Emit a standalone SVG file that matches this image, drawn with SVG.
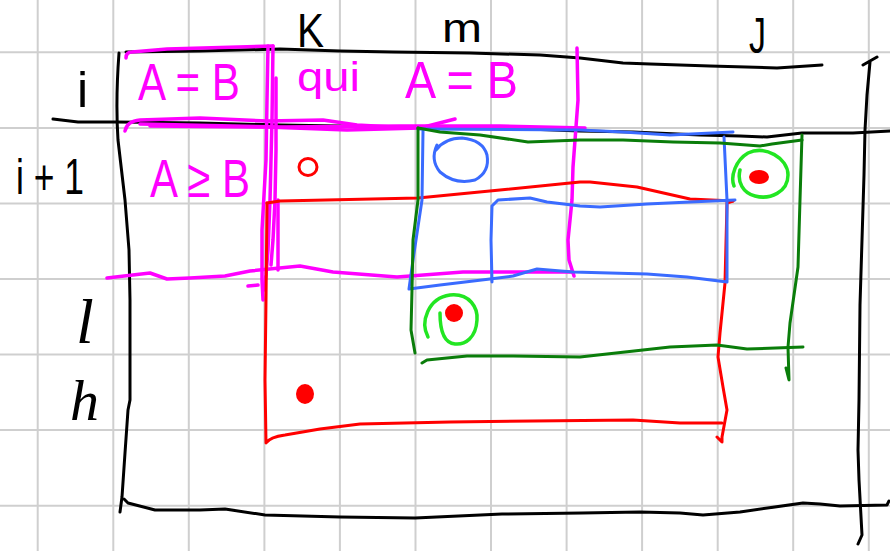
<svg xmlns="http://www.w3.org/2000/svg" width="890" height="551" viewBox="0 0 890 551">
<style>
.grid{stroke:#cfcfcf;stroke-width:2;fill:none}
.k{stroke:#000;stroke-width:3;fill:none;stroke-linecap:round;stroke-linejoin:round}
.mg{stroke:#ff00ff;stroke-width:3.5;fill:none;stroke-linecap:round;stroke-linejoin:round}
.rd{stroke:#ff0000;stroke-width:3;fill:none;stroke-linecap:round;stroke-linejoin:round}
.bl{stroke:#3a6bff;stroke-width:3;fill:none;stroke-linecap:round;stroke-linejoin:round}
.dg{stroke:#0a7d0a;stroke-width:3;fill:none;stroke-linecap:round;stroke-linejoin:round}
.lg{stroke:#22e622;stroke-width:3.5;fill:none;stroke-linecap:round;stroke-linejoin:round}
.dot{fill:#ff0000}
.tk{font-family:"Liberation Sans","DejaVu Sans",sans-serif;fill:#000}
.tc{font-family:"Liberation Serif","DejaVu Serif",serif;font-style:italic;fill:#000}
.tm{font-family:"Liberation Sans","DejaVu Sans",sans-serif;fill:#ff00ff}
</style>
<rect width="890" height="551" fill="#fff"/>
<g id="grid" class="grid">
<path d="M37.7,0V551M113.3,0V551M188.8,0V551M264.4,0V551M339.9,0V551M415.5,0V551M491,0V551M566.6,0V551M642.1,0V551M717.7,0V551M793.2,0V551M868.8,0V551"/>
<path d="M0,52.3H890M0,127.9H890M0,203.4H890M0,279H890M0,354.5H890M0,430.1H890M0,505.7H890"/>
</g>
<g id="frame" class="k">
<path d="M126,52 L200,51 L280,49 L340,51 L393,52 L470,53 L540,55 L580,58 L623,63 L650,64 L710,66 L777,68 L822,65"/>
<path d="M863,65 L877,57 M870,62 L867,95 L865,130 L864,175 L862,240 L860,305 L859,400 L858,450 L859,480 L862,535 L858,544"/>
<path d="M119,53 C117,80 116,110 118,140 L125,200 L129,250 L130,300 L130,400 L128,410 L125,453 L122,497 L120,512"/>
<path d="M124,499 L128,503 L155,510 L200,510 L225,509 L265,515 L340,517 L415,518 L502,514 L582,513 L640,512 L680,513 L703,515 L740,512 L803,503 L820,504 L840,506 L887,505 L889,501"/>
<path d="M53,119 L78,122 L117,122 L200,123 L280,125 L400,127 L500,128 L580,131 L633,132 L700,135 L740,136 L767,137 L802,133 L853,133 L890,131"/>
</g>
<g id="labels">
<text class="tk" x="77" y="107" font-size="50">i</text>
<text class="tk" x="16" y="194" font-size="50" textLength="68" lengthAdjust="spacingAndGlyphs">i + 1</text>
<text class="tk" x="297" y="47" font-size="48" textLength="27" lengthAdjust="spacingAndGlyphs">K</text>
<text class="tk" x="442" y="42" font-size="40" textLength="40" lengthAdjust="spacingAndGlyphs">m</text>
<text class="tk" x="749" y="53" font-size="50" textLength="17" lengthAdjust="spacingAndGlyphs">J</text>
<text class="tc" x="76" y="343" font-size="64">l</text>
<text class="tc" x="70" y="420" font-size="58">h</text>
</g>
<g id="magenta">
<path class="mg" d="M126,58 Q126,52 132,52 L167,49 L273,46"/>
<path class="mg" d="M268,46 L267,100 L266,160 L262,230 L262,280 L263,300"/>
<path class="mg" d="M273,46 L272,120 L270,200 L268,250 L266,275 L264,290"/>
<path class="mg" d="M276,78 L276,150 L275,200 L273,240 L271,265"/>
<path class="mg" d="M278,200 L278,270"/>
<path class="mg" d="M248,286 L258,285"/>
<path class="mg" d="M125,131 Q127,121 140,120 L200,118 L267,121 L323,120 L357,125 L393,127 L500,127 L580,129"/>
<path class="mg" d="M150,126 L267,127 L347,130 L420,128 L455,119"/>
<path class="mg" d="M140,124 L280,127 L400,126 L500,126 L585,128"/>
<path class="mg" d="M577,48 L578,100 L573,167 L572,200 L568,240 L569,260 L574,276"/>
<path class="mg" d="M107,278 L150,273 L167,279 L190,278 L225,276 L250,271 L300,266 L333,272 L397,277 L463,272 L530,272 L573,272"/>
<text class="tm" x="138" y="100" font-size="52" textLength="102" lengthAdjust="spacingAndGlyphs">A = B</text>
<text class="tm" x="150" y="197" font-size="54" textLength="100" lengthAdjust="spacingAndGlyphs">A ≥ B</text>
<text class="tm" x="297" y="91" font-size="40" textLength="63" lengthAdjust="spacingAndGlyphs">qui</text>
<text class="tm" x="405" y="98" font-size="52" textLength="113" lengthAdjust="spacingAndGlyphs">A = B</text>
</g>
<g id="red">
<ellipse class="rd" cx="308" cy="167" rx="9" ry="8.5"/>
<path class="rd" d="M267,203 L280,201 L418,198 L500,190 L580,182 L590,182 L637,187 L690,199 L733,201"/>
<path class="rd" d="M267,203 L266,300 L265,380 L266,443 Q270,437 285,435 L320,429 L360,424 L450,422 L633,420 L680,423 L722,423"/>
<path class="rd" d="M733,201 L727,203 L725,283 L720,333 L718,357 L723,387 L727,410 L722,437 L722,442 L717,437"/>
<ellipse class="dot" cx="305" cy="394" rx="9" ry="10"/>
<ellipse class="dot" cx="454" cy="313" rx="9" ry="9"/>
<ellipse class="dot" cx="759" cy="177" rx="10" ry="7"/>
</g>
<g id="blue">
<path class="bl" d="M437,145 Q430,160 440,172 Q455,185 475,180 Q490,172 487,155 Q483,140 462,138 Q445,138 436,150"/>
<path class="bl" d="M418,129 L580,130 L623,132 L670,135 L733,132"/>
<path class="bl" d="M423,131 L422,200 L413,260 L409,289 L440,285 L490,279 L513,276 L537,269 L573,272 L647,274 L687,277 L727,282 L727,200 L724,137"/>
<path class="bl" d="M492,282 L491,240 L492,206 L498,200 L530,198 L547,202 L572,205 L580,206 L600,207 L647,204 L690,202 L735,200"/>
</g>
<g id="green">
<path class="dg" d="M418,128 L440,132 L480,135 L528,142 L580,140 L623,140 L673,142 L720,143 L760,146 L772,144 L802,140"/>
<path class="dg" d="M418,128 L418,200 L413,240 L412,290 L411,330 L415,353"/>
<path class="dg" d="M802,135 L800,200 L798,267 L790,323 L788,347 L789,380 L786,368"/>
<path class="dg" d="M422,363 L427,360 L467,356 L513,356 L580,357 L670,347 L717,345 L747,349 L803,347"/>
<path class="lg" d="M734,186 C730,176 736,160 748,153 C765,145 788,158 788,175 C788,192 770,200 755,196 C743,193 737,182 740,170"/>
<path class="lg" d="M428,337 C420,322 428,298 450,295 C470,293 478,308 477,320 C476,338 465,345 455,344 C443,343 440,330 440,313"/>
</g>
</svg>
